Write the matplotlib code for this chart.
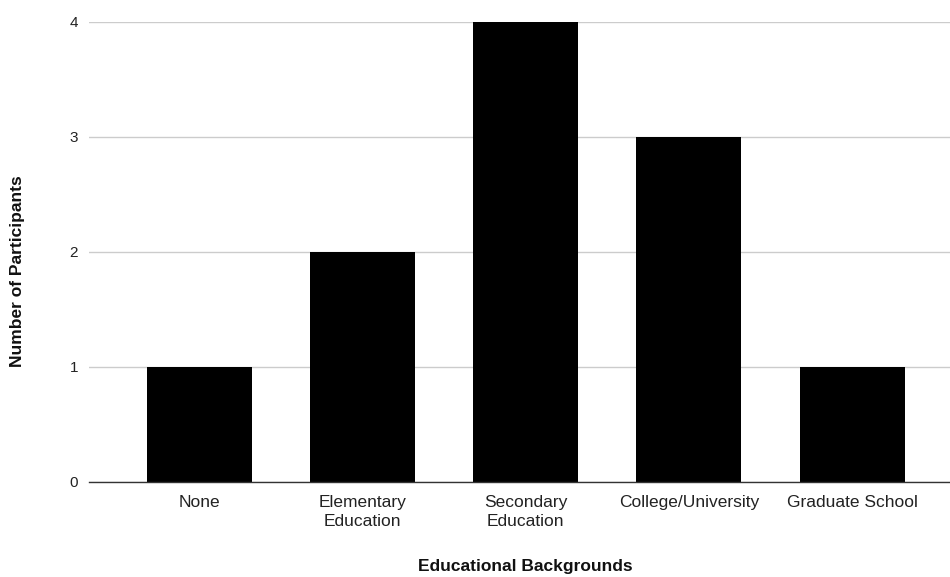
import matplotlib
matplotlib.use("Agg")
import matplotlib.pyplot as plt

categories = ["None", "Elementary\nEducation", "Secondary\nEducation", "College/University", "Graduate School"]
participants = [1, 2, 4, 3, 1]
yticks = [0, 1, 2, 3, 4]

plt.rcParams['font.family'] = ['Liberation Sans', 'DejaVu Sans']

W, H = 950, 577
fig = plt.figure(figsize=(W / 100, H / 100), dpi=100)
left, right, top, bottom = 89, 950, 21.5, 481.5
ax = fig.add_axes([left / W, (H - bottom) / H, (right - left) / W, (bottom - top) / H])

x = list(range(len(categories)))
ax.bar(x, participants, width=0.643, color="black", zorder=3)
ax.set_xlim(-0.677, 4.6)
ax.set_ylim(0, 4)
ax.set_yticks(yticks)
ax.set_yticklabels([str(v) for v in yticks], fontsize=11, color="#222222")
ax.set_xticks(x)
ax.set_xticklabels(categories, fontsize=12.5, color="#222222", linespacing=1.3)
ax.tick_params(axis="both", length=0)
ax.tick_params(axis="y", pad=8)
ax.tick_params(axis="x", pad=10)
ax.grid(axis="y", color="#cccccc", linewidth=1, zorder=0)
for s in ["top", "right", "left"]:
    ax.spines[s].set_visible(False)
ax.spines["bottom"].set_color("#333333")
ax.spines["bottom"].set_linewidth(1)
ax.spines["bottom"].set_zorder(4)

fig.text(525 / W, 1 - 567 / H, "Educational Backgrounds", fontsize=12.5, fontweight="bold",
         ha="center", va="center", color="#111111")
fig.text(18 / W, 1 - 271 / H, "Number of Participants", fontsize=12.5, fontweight="bold",
         ha="center", va="center", rotation=90, color="#111111")

fig.savefig("out.png", dpi=100)
